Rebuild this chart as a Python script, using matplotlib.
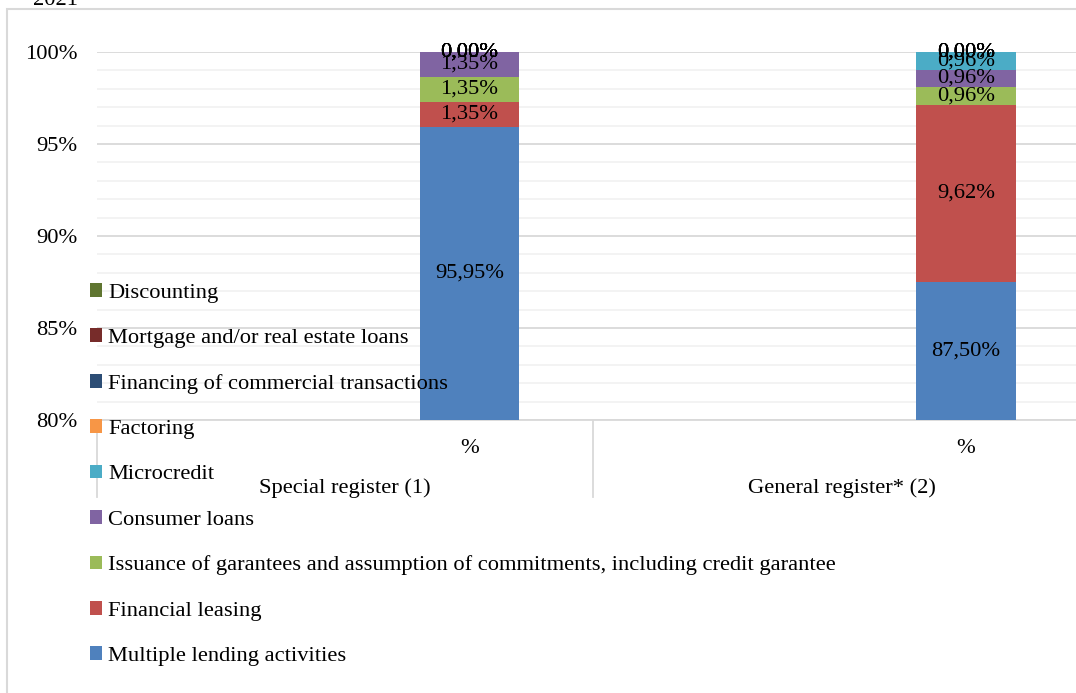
import matplotlib.pyplot as plt
from matplotlib.patches import Patch, Rectangle
import matplotlib.transforms as mtransforms

plt.rcParams['font.family'] = ['Liberation Serif', 'DejaVu Serif']

# данные
groups = ['Special register (1)', 'General register* (2)']
sub_labels = ['', '%', '', '%']
series = ['Multiple lending activities', 'Financial leasing',
          'Issuance of garantees and assumption of commitments, including credit garantee',
          'Consumer loans', 'Microcredit', 'Factoring',
          'Financing of commercial transactions', 'Mortgage and/or real estate loans',
          'Discounting']
special = [95.95, 1.35, 1.35, 1.35, 0.00, 0.00, 0.00, 0.00, 0.00]
general = [87.50, 9.62, 0.96, 0.96, 0.96, 0.00, 0.00, 0.00, 0.00]
colors = ['#4F81BD', '#C0504D', '#9BBB59', '#8064A2', '#4BACC6',
          '#F79646', '#2C4D75', '#772C2A', '#5F7530']

W, H = 1076, 693
fig = plt.figure(figsize=(W / 100, H / 100), dpi=100)
ax = fig.add_axes([97 / W, 1 - 420 / H, (1090 - 97) / W, (420 - 52) / H])

fs = 16.2
ymin, ymax = 80, 100
xs = [1, 3]
bw = 0.4
for x, vals in zip(xs, [special, general]):
    bottom = 0
    for v, c in zip(vals, colors):
        ax.bar(x, v, bw, bottom=bottom, color=c, zorder=3)
        # подпись в середине видимой части сегмента
        lo = max(bottom, ymin)
        hi = max(bottom + v, ymin)
        ax.text(x, (lo + hi) / 2, f'{v:.2f}%'.replace('.', ','), ha='center',
                va='center', fontsize=fs, color='black', zorder=5, clip_on=False)
        bottom += v

ax.set_xlim(-0.5, 3.5)
ax.set_ylim(ymin, ymax)
ax.set_yticks(range(80, 101, 5))
ax.set_yticklabels([f'{v}%' for v in range(80, 101, 5)], fontsize=fs)
ax.set_yticks(range(80, 101), minor=True)
ax.tick_params(axis='y', which='both', length=0, pad=14)
ax.grid(axis='y', which='major', color='#d9d9d9', lw=1.3, zorder=0)
ax.grid(axis='y', which='minor', color='#f2f2f2', lw=1.3, zorder=0)
for s in ['left', 'right', 'top']:
    ax.spines[s].set_visible(False)
ax.spines['bottom'].set_color('#d9d9d9')
ax.spines['bottom'].set_linewidth(1.3)

# подписи категорий в два уровня
ax.set_xticks(range(len(sub_labels)))
ax.set_xticklabels(sub_labels, fontsize=fs)
ax.tick_params(axis='x', length=0, pad=14)
trans = mtransforms.blended_transform_factory(ax.transData, ax.transAxes)
for i, g in enumerate(groups):
    ax.text(2 * i + 0.5, -0.185, g, transform=trans, ha='center', va='center',
            fontsize=fs)
for b in [-0.5, 1.5, 3.5]:
    ax.plot([b, b], [0, -0.21], transform=trans, color='#d9d9d9', lw=1.3,
            clip_on=False)

# легенда
handles = [Patch(facecolor=c, label=s) for s, c in zip(series, colors)]
fig.legend(handles=handles[::-1], loc='upper left',
           bbox_to_anchor=(90 / W, 1 - 283 / H), frameon=False, fontsize=fs,
           handlelength=0.55, handleheight=0.55, handletextpad=0.25,
           labelspacing=1.14, borderpad=0, borderaxespad=0)

# рамка и заголовок
fig.patches.append(Rectangle((7 / W, -0.1), 1.2, 1 - 9 / H + 0.1,
                             transform=fig.transFigure, fill=False,
                             edgecolor='#d9d9d9', lw=1.5))
fig.text(33 / W, 1 - 5 / H, '2021', fontsize=fs, va='baseline', ha='left')

fig.savefig('out.png', dpi=100)
